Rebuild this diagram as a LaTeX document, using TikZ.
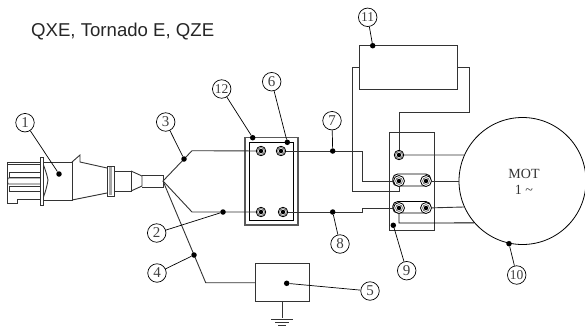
\documentclass[tikz,border=0pt]{standalone}
\usepackage{fontspec}
\setmainfont{Liberation Serif}
\newfontfamily\headfont{Liberation Sans}
\usetikzlibrary{positioning}
\definecolor{wirecol}{gray}{0.2}
\tikzstyle{wire} = [line width=0.9pt,draw=wirecol]
\tikzstyle{part} = [line width=0.9pt,draw=wirecol]
\tikzstyle{num} = [draw=black,circle,line width=0.7pt,fill=white,inner sep=0pt,minimum size=18.5pt,font=\fontsize{15}{15}\selectfont,text=black!75]
\tikzstyle{smallnum} = [num,font=\fontsize{13.5}{13.5}\selectfont]
\tikzstyle{spot} = [circle,fill=black,inner sep=0pt,minimum size=5.5pt]
\tikzstyle{lead} = [line width=0.7pt,draw=black]
\tikzstyle{term} = [draw=black,circle,line width=0.8pt,fill=white,inner sep=0pt,minimum size=9.5pt,path picture={\fill[black] (path picture bounding box.center) circle (2.2pt);\draw[black!70,line width=0.6pt] (path picture bounding box.center) circle (3.4pt);}]
\tikzstyle{bigterm} = [term,minimum size=11pt]

\begin{document}
\begin{tikzpicture}[x=1pt,y=-1pt]
\useasboundingbox (0,0) rectangle (585,327);

    % Title
    \node[anchor=west,inner sep=0pt,font=\headfont\fontsize{18.6}{19}\selectfont,text=black!85] (title) at (31,32) {QXE, Tornado E, QZE};

    % Draw the plug
    \draw[part] (40,162) -- (7,162) -- (7,203) -- (17,203) -- (17,199) -- (40,199);
    \draw[part] (7,164.5) -- (40,164.5);
    \draw[part] (40,172) -- (9.5,172) -- (9.5,177) -- (40,177);
    \draw[part] (40,178) -- (8,178) -- (7.5,181) -- (8,184) -- (40,184);
    \draw[part] (40,186.5) -- (9.5,186.5) -- (9.5,191) -- (40,191);
    \draw[part,fill=white] (40,157) rectangle (43.5,205);
    \draw[part] (43.5,162) -- (72,162) -- (72,200) -- (43.5,200);
    \draw[part] (43.5,165) .. controls (46,172) and (47,175) .. (48,180) .. controls (47,186) and (46,190) .. (43.5,197);
    \draw[part] (72,162) -- (80,155) -- (80,162) -- (107,168);
    \draw[part] (72,200) -- (107,193);
    \draw[part] (107,166) rectangle (114,196);
    \fill[black!35] (109,167) rectangle (112,195);
    \draw[part] (114,171) -- (131,171) -- (131,191) -- (114,191);
    \draw[part] (131,171) -- (142,176) -- (142,186) -- (131,191);
    \draw[part] (142,175.5) -- (163,175.5) -- (163,187) -- (142,187);

    % Draw the boxes
    \draw[part,line width=1.2pt,draw=black!65] (245,137.5) rectangle (298,225);
    \draw[part,draw=black] (249.5,142) rectangle (293.5,220.5);
    \draw[part] (389.3,132.7) rectangle (434.3,230);
    \draw[part] (359.7,45.7) rectangle (457.3,89.7);
    \draw[part] (255,263.7) rectangle (309,301);
    \node[draw=black,circle,line width=0.8pt,inner sep=0pt,minimum size=127pt] (motor) at (522.5,181) {};
    \node[text=black!80,font=\fontsize{14}{14}\selectfont] (mot) at (524,174) {MOT};
    \node[text=black!80,font=\fontsize{14}{14}\selectfont] (one) at (524,190) {1 \char`\~};

    % Links between the motor terminals
    \draw[part,draw=black,rounded corners=5pt] (392.7,174) rectangle (430.7,186);
    \draw[part,draw=black,rounded corners=5pt] (392.7,201.5) rectangle (430.7,213);

    % Terminals
    \node[term] (a1) at (261,151) {};
    \node[term] (a2) at (281,151) {};
    \node[term] (a3) at (261,212) {};
    \node[term] (a4) at (283,212) {};
    \node[term] (b0) at (399,155) {};
    \node[bigterm] (b1) at (399,181) {};
    \node[bigterm] (b2) at (426,181) {};
    \node[bigterm] (b3) at (399,208) {};
    \node[bigterm] (b4) at (426,208) {};

    % Draw the wires
    \coordinate (jct) at (163,181);
    \draw[wire] (jct) -- (192,150.7) -- (a1);
    \draw[wire] (jct) -- (192,212) -- (a3);
    \draw[wire] (jct) -- (205.7,282.7) -- (255,282.7);
    \draw[wire] (a2) -- (362,151) -- (362,181) -- (b1);
    \draw[wire] (a4) -- (362,212) -- (362,208) -- (b3);
    \draw[wire] (359.7,67.3) -- (352,67.3) -- (352,191.7) -- (399,191.7) -- (b1);
    \draw[wire] (457.3,67.3) -- (469,67.3) -- (469,112.7) -- (399,112.7) -- (b0);
    \draw[wire] (b0) -- (motor.156);
    \draw[wire] (b2) -- (motor.west);
    \draw[wire] (b4) -- (motor.204);
    \draw[wire,draw=black] (b3) -- (399,223) -- (motor.221);

    % Ground
    \draw[wire] (282,301) -- (282,318);
    \draw[wire] (271,319) -- (293,319);
    \draw[wire] (275,322) -- (289,322);
    \draw[wire] (278,325) -- (286,325);

    % Reference numbers
    \node[num] (n1) at (25,122.7) {1};
    \node[num] (n2) at (156.7,233) {2};
    \node[num] (n3) at (165.7,122) {3};
    \node[num] (n4) at (157,273) {4};
    \node[num] (n5) at (370,291) {5};
    \node[num] (n6) at (271.7,81.7) {6};
    \node[num] (n7) at (332,120.7) {7};
    \node[num] (n8) at (340,244) {8};
    \node[num] (n9) at (406.7,270.7) {9};
    \node[smallnum] (n10) at (516.7,275) {10};
    \node[smallnum] (n11) at (367.7,17.3) {11};
    \node[smallnum] (n12) at (221.7,89) {12};

    \node[spot] (s1) at (59,174) {};
    \node[spot] (s2) at (223,212) {};
    \node[spot] (s3) at (184,159) {};
    \node[spot] (s4) at (194,255) {};
    \node[spot] (s5) at (286.7,283.3) {};
    \node[spot] (s6) at (287.3,142.3) {};
    \node[spot] (s7) at (332.7,151) {};
    \node[spot] (s8) at (332.7,212) {};
    \node[spot] (s9) at (393.3,225.3) {};
    \node[spot] (s10) at (509,243.7) {};
    \node[spot] (s11) at (372.7,45.7) {};
    \node[spot] (s12) at (252.7,137.7) {};

    \draw[lead] (n1) -- (s1);
    \draw[lead] (n2) -- (s2);
    \draw[lead] (n3) -- (s3);
    \draw[lead] (n4) -- (s4);
    \draw[lead] (n5) -- (s5);
    \draw[lead] (n6) -- (s6);
    \draw[lead] (n7) -- (s7);
    \draw[lead] (n8) -- (s8);
    \draw[lead] (n9) -- (s9);
    \draw[lead] (n10) -- (s10);
    \draw[lead] (n11) -- (s11);
    \draw[lead] (n12) -- (s12);

\end{tikzpicture}
\end{document}
